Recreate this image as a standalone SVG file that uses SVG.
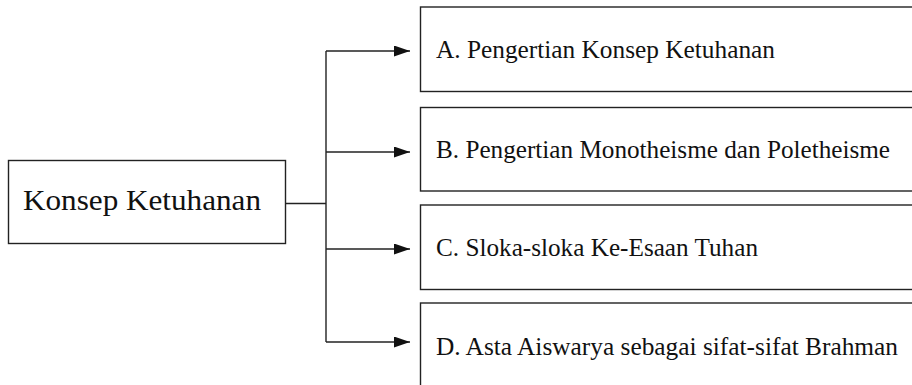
<svg xmlns="http://www.w3.org/2000/svg" width="912" height="385" viewBox="0 0 912 385">
<defs>
<style>
.box{fill:#fff;stroke:#222;stroke-width:1.4}
.con{fill:none;stroke:#222;stroke-width:1.4}
.lbl{font-family:"Liberation Serif","Times New Roman",serif;fill:#111}
.big{font-size:30px}
.sm{font-size:25px}
</style>
<marker id="arr" viewBox="0 0 16 11" refX="16" refY="5.5" markerWidth="16" markerHeight="11" markerUnits="userSpaceOnUse" orient="auto">
<path d="M0,0 L16,5.5 L0,11 Z" fill="#111"/>
</marker>
</defs>
<rect width="912" height="385" fill="#fff"/>
<g id="connectors">
<path class="con" d="M285.5,203.5 H326"/>
<path class="con" d="M326,51 V342"/>
<path class="con" d="M326,51 H410" marker-end="url(#arr)"/>
<path class="con" d="M326,152 H410" marker-end="url(#arr)"/>
<path class="con" d="M326,249 H410" marker-end="url(#arr)"/>
<path class="con" d="M326,342 H410" marker-end="url(#arr)"/>
</g>
<g id="root">
<rect class="box" x="8.5" y="160.5" width="277" height="83"/>
<text class="lbl big" x="23" y="210" textLength="238" lengthAdjust="spacingAndGlyphs">Konsep Ketuhanan</text>
</g>
<g id="nodeA">
<rect class="box" x="420.5" y="7" width="500" height="84.5"/>
<text class="lbl sm" x="436" y="58" textLength="339" lengthAdjust="spacingAndGlyphs">A. Pengertian Konsep Ketuhanan</text>
</g>
<g id="nodeB">
<rect class="box" x="420.5" y="107.5" width="500" height="83.5"/>
<text class="lbl sm" x="436" y="158" textLength="454" lengthAdjust="spacingAndGlyphs">B. Pengertian Monotheisme dan Poletheisme</text>
</g>
<g id="nodeC">
<rect class="box" x="420.5" y="205" width="500" height="84.5"/>
<text class="lbl sm" x="436" y="256" textLength="322" lengthAdjust="spacingAndGlyphs">C. Sloka-sloka Ke-Esaan Tuhan</text>
</g>
<g id="nodeD">
<rect class="box" x="420.5" y="303" width="500" height="100"/>
<text class="lbl sm" x="436" y="355" textLength="462" lengthAdjust="spacingAndGlyphs">D. Asta Aiswarya sebagai sifat-sifat Brahman</text>
</g>
</svg>
